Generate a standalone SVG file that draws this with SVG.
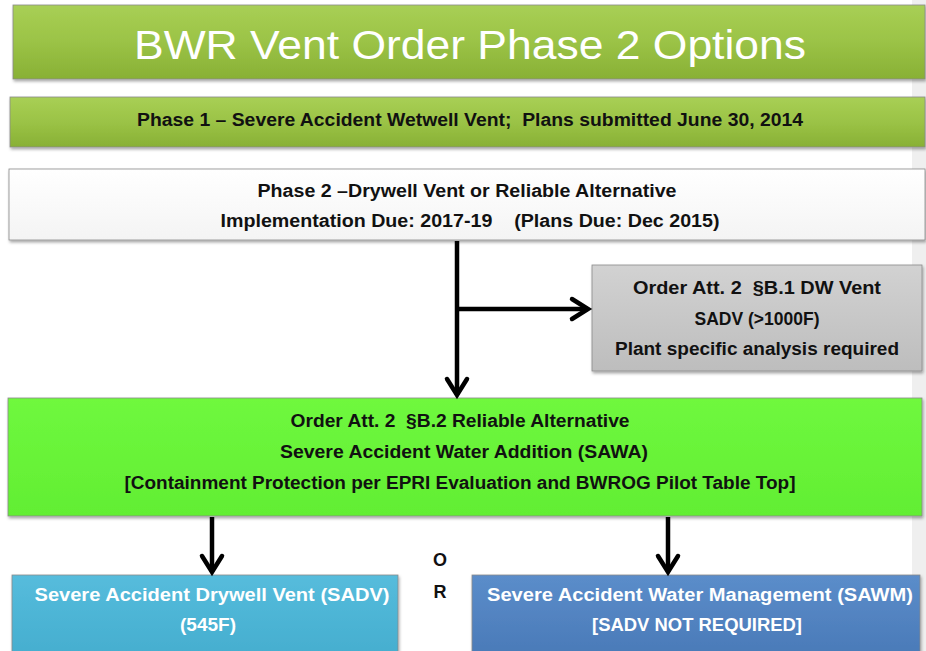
<svg xmlns="http://www.w3.org/2000/svg" width="926" height="651" viewBox="0 0 926 651">
<defs>
<linearGradient id="gOlive" x1="0" y1="0" x2="0" y2="1">
<stop offset="0" stop-color="#a8cf55"/><stop offset="0.5" stop-color="#9bc346"/><stop offset="1" stop-color="#88b035"/>
</linearGradient>
<linearGradient id="gWhite" x1="0" y1="0" x2="0" y2="1">
<stop offset="0" stop-color="#ffffff"/><stop offset="1" stop-color="#f4f4f4"/>
</linearGradient>
<linearGradient id="gGray" x1="0" y1="0" x2="0" y2="1">
<stop offset="0" stop-color="#d2d2d2"/><stop offset="1" stop-color="#bdbdbd"/>
</linearGradient>
<linearGradient id="gLime" x1="0" y1="0" x2="0" y2="1">
<stop offset="0" stop-color="#6ff83e"/><stop offset="1" stop-color="#62ee33"/>
</linearGradient>
<linearGradient id="gCyan" x1="0" y1="0" x2="0" y2="1">
<stop offset="0" stop-color="#56bcdc"/><stop offset="1" stop-color="#45aecf"/>
</linearGradient>
<linearGradient id="gBlue" x1="0" y1="0" x2="0" y2="1">
<stop offset="0" stop-color="#5b8dca"/><stop offset="1" stop-color="#4a7ab8"/>
</linearGradient>
<filter id="sh" x="-5%" y="-10%" width="110%" height="130%">
<feDropShadow dx="1" dy="2" stdDeviation="1.5" flood-color="#000" flood-opacity="0.35"/>
</filter>
<marker id="ah" markerUnits="userSpaceOnUse" markerWidth="30" markerHeight="30" viewBox="-20 -15 30 30" refX="0" refY="0" orient="auto">
<path d="M-16,-10 L0,0 L-16,10" fill="none" stroke="#000" stroke-width="4.5" stroke-linecap="round" stroke-linejoin="miter"/>
</marker>
</defs>
<style>
.box{filter:url(#sh);stroke:#8a8a8a;stroke-width:0.8}
.t{font-family:"Liberation Sans",Arial,sans-serif;text-anchor:middle;white-space:pre}
.b{font-weight:bold;font-size:18px;fill:#111}
.w{fill:#fff}
.conn path{fill:none;stroke:#000;stroke-width:4.5;marker-end:url(#ah)}
</style>
<rect x="912" y="0" width="14" height="651" fill="#efefef"/>
<g id="title">
<rect class="box" x="13" y="5" width="912" height="74" fill="url(#gOlive)"/>
<text class="t w" x="470" y="59" font-size="40" textLength="672" lengthAdjust="spacingAndGlyphs">BWR Vent Order Phase 2 Options</text>
</g>
<g id="phase1">
<rect class="box" x="10" y="97" width="915" height="50" fill="url(#gOlive)"/>
<text class="t b" x="470" y="126" textLength="666" lengthAdjust="spacingAndGlyphs" xml:space="preserve">Phase 1 – Severe Accident Wetwell Vent;  Plans submitted June 30, 2014</text>
</g>
<g id="phase2">
<rect class="box" x="9" y="169" width="916" height="71" fill="url(#gWhite)"/>
<text class="t b" x="467" y="197" textLength="419" lengthAdjust="spacingAndGlyphs">Phase 2 –Drywell Vent or Reliable Alternative</text>
<text class="t b" x="470" y="227" textLength="499" lengthAdjust="spacingAndGlyphs" xml:space="preserve">Implementation Due: 2017-19    (Plans Due: Dec 2015)</text>
</g>
<g id="dwvent">
<rect class="box" x="592" y="265" width="330" height="106" fill="url(#gGray)"/>
<text class="t b" x="757" y="294" textLength="248" lengthAdjust="spacingAndGlyphs" xml:space="preserve">Order Att. 2  §B.1 DW Vent</text>
<text class="t b" x="757" y="325" textLength="125" lengthAdjust="spacingAndGlyphs">SADV (&gt;1000F)</text>
<text class="t b" x="757" y="355" textLength="284" lengthAdjust="spacingAndGlyphs">Plant specific analysis required</text>
</g>
<g id="sawa">
<rect class="box" x="8" y="398" width="914" height="118" fill="url(#gLime)"/>
<text class="t b" x="460" y="427" textLength="339" lengthAdjust="spacingAndGlyphs" xml:space="preserve">Order Att. 2  §B.2 Reliable Alternative</text>
<text class="t b" x="464" y="458" textLength="368" lengthAdjust="spacingAndGlyphs">Severe Accident Water Addition (SAWA)</text>
<text class="t b" x="460" y="489" textLength="671" lengthAdjust="spacingAndGlyphs">[Containment Protection per EPRI Evaluation and BWROG Pilot Table Top]</text>
</g>
<g id="or">
<text class="t b" x="440" y="566">O</text>
<text class="t b" x="440" y="598">R</text>
</g>
<g id="sadv">
<rect class="box" x="12" y="575" width="386" height="80" fill="url(#gCyan)"/>
<text class="t b w" x="212" y="601" textLength="355" lengthAdjust="spacingAndGlyphs">Severe Accident Drywell Vent (SADV)</text>
<text class="t b w" x="208" y="631" textLength="56" lengthAdjust="spacingAndGlyphs">(545F)</text>
</g>
<g id="sawm">
<rect class="box" x="472" y="575" width="448" height="80" fill="url(#gBlue)"/>
<text class="t b w" x="700" y="601" textLength="426" lengthAdjust="spacingAndGlyphs">Severe Accident Water Management (SAWM)</text>
<text class="t b w" x="697" y="631" textLength="210" lengthAdjust="spacingAndGlyphs">[SADV NOT REQUIRED]</text>
</g>
<g id="connectors" class="conn">
<path d="M457,241 V395"/>
<path d="M457,309 H588"/>
<path d="M212,517 V572"/>
<path d="M668,517 V572"/>
</g>
</svg>
